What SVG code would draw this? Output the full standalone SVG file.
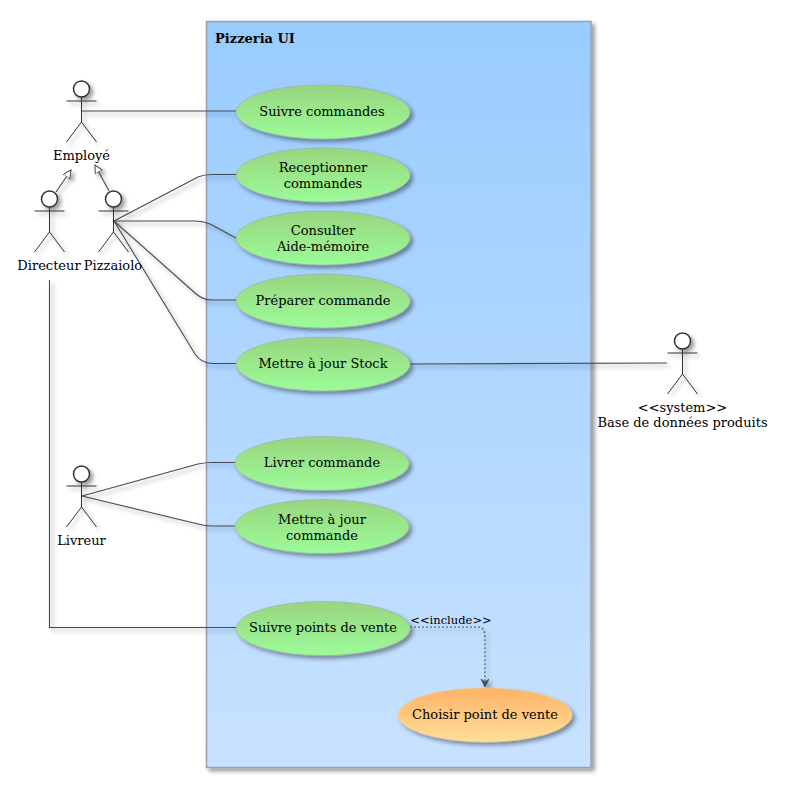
<svg xmlns="http://www.w3.org/2000/svg" width="792" height="801" viewBox="0 0 792 801">
<style>
text{font-family:"DejaVu Serif",serif;font-size:13px;fill:#000;text-anchor:middle}
.uc{stroke:#a0a0a0;stroke-width:0.5;fill:url(#g)}
.org{stroke:#e8c890;stroke-width:0.5;fill:url(#o)}
.a{fill:none;stroke:#333;stroke-width:1}
.h{fill:#fff;stroke:#333;stroke-width:1.5}
.l{fill:none;stroke:#444b55;stroke-width:1.1}
</style>
<defs>
<linearGradient id="bg" x1="0" y1="0" x2="0" y2="1"><stop offset="0" stop-color="#99ccff"/><stop offset="1" stop-color="#c8e2ff"/></linearGradient>
<linearGradient id="g" x1="0" y1="0" x2="0" y2="1"><stop offset="0" stop-color="#98d57e"/><stop offset="1" stop-color="#9cfb98"/></linearGradient>
<linearGradient id="o" x1="0" y1="0" x2="0" y2="1"><stop offset="0" stop-color="#ffb266"/><stop offset="1" stop-color="#ffdf99"/></linearGradient>
<filter id="s" x="-20%" y="-20%" width="150%" height="150%"><feDropShadow dx="3" dy="3" stdDeviation="2" flood-color="#000" flood-opacity="0.4"/></filter>
<marker id="tri" markerWidth="10" markerHeight="10" refX="8" refY="4" orient="auto" markerUnits="userSpaceOnUse"><path d="M0 0L8 4L0 8Z" fill="#fff" stroke="#444b55" stroke-width="1"/></marker>
<marker id="open" markerWidth="10" markerHeight="10" refX="8" refY="4" orient="auto" markerUnits="userSpaceOnUse"><path d="M0 0L8 4L0 8L3 4Z" fill="#444b55" stroke="#444b55" stroke-width="0.8"/></marker>
<g id="stick"><circle class="h" cx="0" cy="-12" r="8"/><path class="a" d="M0-4V21M-15 0H15M0 21L-15 41M0 21L15 41"/></g>
</defs>
<g id="pkg"><rect x="206.5" y="21.5" width="384.500" height="746" fill="url(#bg)" stroke="#9aa0b0" stroke-width="1.5" filter="url(#s)"/><text x="255" y="43" style="font-weight:bold">Pizzeria UI</text></g>
<g id="connectors" filter="url(#s)">
<path class="l" d="M82 111H236"/>
<path class="l" d="M114 221L198 177Q204 174.500 212 174.500H236"/>
<path class="l" d="M114 221H195Q203 221 210 224L236 238"/>
<path class="l" d="M114 221L195 293Q203 300 212 300H236"/>
<path class="l" d="M114 221L195 354Q201 363 212 363.500H236"/>
<path class="l" d="M82 496L198 464Q205 462.500 212 462.500H236"/>
<path class="l" d="M82 496L198 524Q205 526 212 526H236"/>
<path class="l" d="M49.500 280V627.500H236"/>
<path class="l" d="M410 364L667 363"/>
<path class="l" d="M56 192L71 170" marker-end="url(#tri)"/>
<path class="l" d="M109 191L95 165" marker-end="url(#tri)"/>
<path class="l" d="M410 627H478Q485 627 485 637V687" stroke-dasharray="2 2" stroke-width="1.400" marker-end="url(#open)"/>
</g>
<text x="451" y="624" style="font-size:11.500px">&lt;&lt;include&gt;&gt;</text>
<g id="a-employe"><use href="#stick" x="81.500" y="101" filter="url(#s)"/><text x="81.500" y="160">Employé</text></g>
<g id="a-directeur"><use href="#stick" x="49.500" y="211" filter="url(#s)"/><text x="49" y="270">Directeur</text></g>
<g id="a-pizzaiolo"><use href="#stick" x="113.500" y="211" filter="url(#s)"/><text x="113" y="270">Pizzaiolo</text></g>
<g id="a-livreur"><use href="#stick" x="81.500" y="486" filter="url(#s)"/><text x="81.500" y="545">Livreur</text></g>
<g id="a-base"><use href="#stick" x="682.500" y="353" filter="url(#s)"/><text x="682.500" y="412">&lt;&lt;system&gt;&gt;</text><text x="682.500" y="427">Base de données produits</text></g>
<g id="u1"><ellipse class="uc" cx="323" cy="112" rx="87" ry="27" filter="url(#s)"/><text x="322" y="116">Suivre commandes</text></g>
<g id="u2"><ellipse class="uc" cx="323" cy="175" rx="87" ry="27" filter="url(#s)"/><text x="323" y="172">Receptionner</text><text x="323" y="188">commandes</text></g>
<g id="u3"><ellipse class="uc" cx="323" cy="238" rx="87" ry="27" filter="url(#s)"/><text x="323" y="235">Consulter</text><text x="323" y="251">Aide-mémoire</text></g>
<g id="u4"><ellipse class="uc" cx="323" cy="301" rx="87" ry="27" filter="url(#s)"/><text x="323" y="305">Préparer commande</text></g>
<g id="u5"><ellipse class="uc" cx="323" cy="364" rx="87" ry="27" filter="url(#s)"/><text x="323" y="368">Mettre à jour Stock</text></g>
<g id="u6"><ellipse class="uc" cx="322" cy="463.500" rx="87" ry="27" filter="url(#s)"/><text x="322" y="467">Livrer commande</text></g>
<g id="u7"><ellipse class="uc" cx="322" cy="526.500" rx="87" ry="27" filter="url(#s)"/><text x="322" y="524">Mettre à jour</text><text x="322" y="540">commande</text></g>
<g id="u8"><ellipse class="uc" cx="323" cy="628.500" rx="87" ry="27" filter="url(#s)"/><text x="323" y="632">Suivre points de vente</text></g>
<g id="u9"><ellipse class="org" cx="485" cy="715" rx="87" ry="27" filter="url(#s)"/><text x="485" y="719">Choisir point de vente</text></g>
</svg>
